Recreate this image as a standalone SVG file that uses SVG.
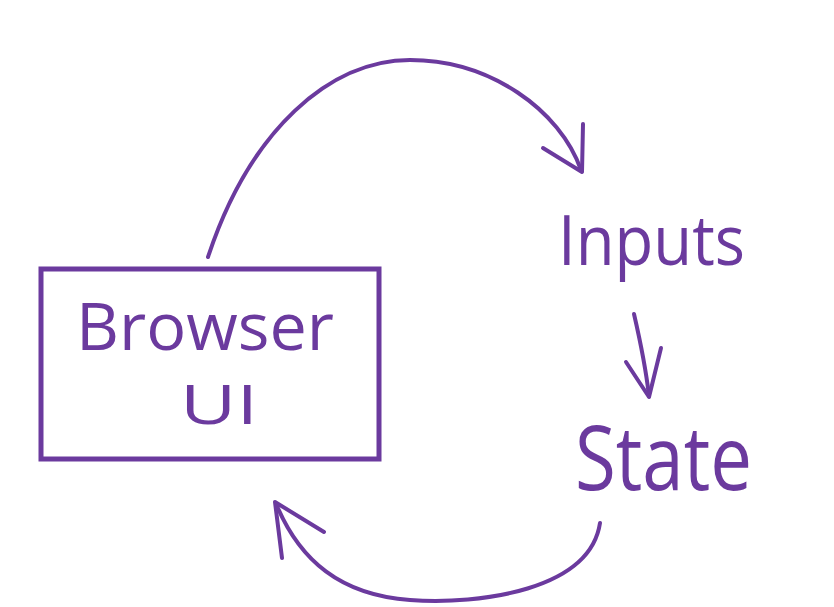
<svg xmlns="http://www.w3.org/2000/svg" width="834" height="607" viewBox="0 0 834 607">
<style>
.s{fill:none;stroke:#6B3A9E;stroke-width:4;stroke-linecap:round;stroke-linejoin:round}
.t{fill:#6B3A9E;font-family:"Open Sans","DejaVu Sans",sans-serif;font-weight:400}
</style>
<rect width="834" height="607" fill="#fff"/>
<g id="browser-ui">
<rect x="41" y="269" width="338" height="190" fill="none" stroke="#6B3A9E" stroke-width="5"/>
<text class="t" x="76" y="350" font-size="66" textLength="258" lengthAdjust="spacingAndGlyphs">Browser</text>
<text class="t" x="180" y="424" font-size="54" textLength="78" lengthAdjust="spacingAndGlyphs">UI</text>
</g>
<g id="inputs">
<text class="t" x="558" y="265" font-size="70" textLength="187" lengthAdjust="spacingAndGlyphs">Inputs</text>
</g>
<g id="state">
<text class="t" x="575" y="490" font-size="90" textLength="177" lengthAdjust="spacingAndGlyphs">State</text>
</g>
<g id="connectors">
<path class="s" d="M208,257 C250,130 330,60 410,60 C490,60 560,110 581,170"/>
<path class="s" d="M543,148 L582,172 L583,124"/>
<path class="s" d="M634,314 C640,340 646,370 649,396"/>
<path class="s" d="M626,362 L649,397 L661,348"/>
<path class="s" d="M600,523 C590,590 480,605 410,600 C340,595 300,560 277,506"/>
<path class="s" d="M282,558 L275,502 L324,532"/>
</g>
</svg>
